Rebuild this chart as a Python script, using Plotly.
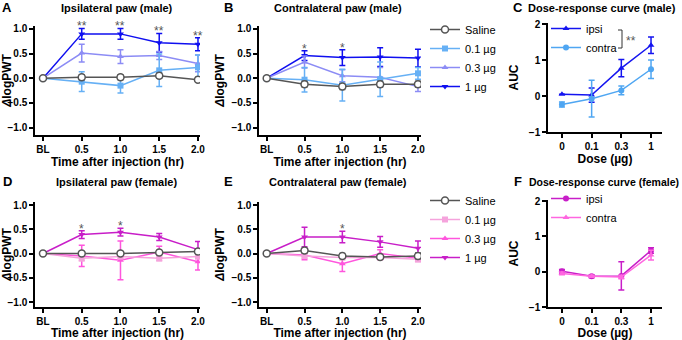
import plotly.graph_objects as go

# ---------------- data ----------------
times = [0, 0.5, 1.0, 1.5, 2.0]
time_ticks = ["BL", "0.5", "1.0", "1.5", "2.0"]
dose_pos = [0, 1, 2, 3]
dose_ticks = ["0", "0.1", "0.3", "1"]
groups = ["Saline", "0.1 µg", "0.3 µg", "1 µg"]

# A: ipsilateral male
A_saline = [0, 0.02, 0.02, 0.05, -0.03]
A_saline_e = [0, 0.05, 0.05, 0.05, 0.05]
A_01 = [0, -0.07, -0.15, 0.16, 0.22]
A_01_e = [0, 0.20, 0.15, 0.33, 0.25]
A_03 = [0, 0.51, 0.44, 0.46, 0.30]
A_03_e = [0, 0.18, 0.14, 0.08, 0.17]
A_1 = [0, 0.90, 0.90, 0.72, 0.69]
A_1_e = [0, 0.11, 0.11, 0.19, 0.13]
A_stars = ["", "**", "**", "**", "**"]

# B: contralateral male
B_saline = [0, -0.12, -0.17, -0.12, -0.12]
B_saline_e = [0, 0.06, 0.06, 0.06, 0.06]
B_01 = [0, -0.03, -0.14, -0.02, 0.10]
B_01_e = [0, 0.25, 0.32, 0.35, 0.12]
B_03 = [0, 0.33, 0.05, 0.02, -0.17]
B_03_e = [0, 0.12, 0.12, 0.20, 0.10]
B_1 = [0, 0.46, 0.42, 0.43, 0.41]
B_1_e = [0, 0.10, 0.16, 0.19, 0.18]
B_stars = ["", "*", "*", "", ""]

# C: dose-response male (AUC)
C_ipsi = [0.05, 0.03, 0.78, 1.42]
C_ipsi_e = [0.0, 0.20, 0.24, 0.23]
C_contra = [-0.23, -0.07, 0.16, 0.75]
C_contra_e = [0.07, 0.51, 0.12, 0.26]

# D: ipsilateral female
D_saline = [0, 0.0, 0.0, 0.02, 0.04]
D_saline_e = [0, 0.04, 0.04, 0.04, 0.05]
D_01 = [0, -0.10, -0.06, -0.10, -0.06]
D_01_e = [0, 0.05, 0.05, 0.05, 0.05]
D_03 = [0, -0.05, -0.14, 0.03, -0.17]
D_03_e = [0, 0.22, 0.40, 0.12, 0.17]
D_1 = [0, 0.39, 0.44, 0.34, 0.08]
D_1_e = [0, 0.08, 0.08, 0.07, 0.17]
D_stars = ["", "*", "*", "", ""]

# E: contralateral female
E_saline = [0, 0.06, -0.05, -0.07, -0.05]
E_saline_e = [0, 0.05, 0.05, 0.05, 0.06]
E_01 = [0, -0.05, -0.08, -0.08, -0.12]
E_01_e = [0, 0.05, 0.05, 0.05, 0.05]
E_03 = [0, -0.03, -0.21, 0.0, -0.10]
E_03_e = [0, 0.10, 0.16, 0.08, 0.06]
E_1 = [0, 0.34, 0.34, 0.24, 0.11]
E_1_e = [0, 0.20, 0.12, 0.11, 0.15]
E_stars = ["", "", "*", "", ""]

# F: dose-response female (AUC)
F_ipsi = [0.01, -0.13, -0.12, 0.60]
F_ipsi_e = [0.05, 0.04, 0.40, 0.08]
F_contra = [-0.05, -0.13, -0.15, 0.47]
F_contra_e = [0.04, 0.03, 0.05, 0.14]

# ---------------- styles ----------------
male_cols = ["#555555", "#66b0f5", "#8c8cf5", "#0f0ff0"]
female_cols = ["#555555", "#f5a3dc", "#ff55dd", "#c81ec8"]
symbols = ["circle-open", "square", "triangle-up", "triangle-down"]
FONT = "Arial, Liberation Sans, sans-serif"

W, H = 682, 340
def px_x(a, b):
    return [a / W, b / W]
def px_y(top, bottom):
    return [1 - bottom / H, 1 - top / H]

fig = go.Figure()

def add_time_panel(idx, series, errs, cols, legend_name, stars):
    xa = "x" if idx == 1 else f"x{idx}"
    ya = "y" if idx == 1 else f"y{idx}"
    order = [3, 2, 1, 0]
    for k in order:
        is_sal = k == 0
        fig.add_trace(go.Scatter(
            x=times, y=series[k], mode="lines+markers", name=groups[k],
            xaxis=xa, yaxis=ya,
            line=dict(color=cols[k], width=1.5),
            marker=dict(symbol="circle" if is_sal else symbols[k], size=7 if is_sal else 6,
                        color="white" if is_sal else cols[k],
                        line=dict(color=cols[k], width=1.5 if is_sal else 0)),
            error_y=dict(type="data", array=errs[k], color=cols[k], thickness=1.5, width=3),
            legend=legend_name if legend_name else "legend",
            showlegend=legend_name is not None,
            legendrank=k + 1,
        ))
    top = [max(series[k][i] + errs[k][i] for k in range(4)) for i in range(len(times))]
    for i, s in enumerate(stars):
        if s:
            fig.add_annotation(x=times[i], y=top[i], xref=xa, yref=ya, text=s,
                               showarrow=False, yanchor="bottom", yshift=-7,
                               font=dict(size=12, color="#555555", family=FONT))

def add_dose_panel(idx, ipsi, ipsi_e, contra, contra_e, cols, syms, legend_name):
    xa = f"x{idx}"
    ya = f"y{idx}"
    data = [("ipsi", ipsi, ipsi_e, cols[0], syms[0]), ("contra", contra, contra_e, cols[1], syms[1])]
    for r, (nm, y, e, c, s) in enumerate(data):
        fig.add_trace(go.Scatter(
            x=dose_pos, y=y, mode="lines+markers", name=nm, xaxis=xa, yaxis=ya,
            line=dict(color=c, width=1.5),
            marker=dict(symbol=s, size=6, color=c),
            error_y=dict(type="data", array=e, color=c, thickness=1.5, width=3),
            legend=legend_name, legendrank=r + 1,
        ))

add_time_panel(1, [A_saline, A_01, A_03, A_1], [A_saline_e, A_01_e, A_03_e, A_1_e], male_cols, None, A_stars)
add_time_panel(2, [B_saline, B_01, B_03, B_1], [B_saline_e, B_01_e, B_03_e, B_1_e], male_cols, "legend", B_stars)
add_dose_panel(3, C_ipsi, C_ipsi_e, C_contra, C_contra_e, ["#1414f0", "#4fa6f2"], ["triangle-up", "circle"], "legend2")
add_time_panel(4, [D_saline, D_01, D_03, D_1], [D_saline_e, D_01_e, D_03_e, D_1_e], female_cols, None, D_stars)
add_time_panel(5, [E_saline, E_01, E_03, E_1], [E_saline_e, E_01_e, E_03_e, E_1_e], female_cols, "legend3", E_stars)
add_dose_panel(6, F_ipsi, F_ipsi_e, F_contra, F_contra_e, ["#c81ec8", "#ff66e0"], ["circle", "triangle-up"], "legend4")

axis_common = dict(showline=True, linecolor="black", linewidth=1.5, ticks="outside",
                   ticklen=4, tickwidth=1.5, tickcolor="black", showgrid=False, zeroline=False,
                   automargin=False,
                   tickfont=dict(family=FONT, size=10, color="black", weight="bold"),
                   title_font=dict(family=FONT, size=12, color="black", weight="bold"),
                   mirror=False)

lay = {}
domX_left = px_x(35, 200)
domX_mid = px_x(259, 421)
domX_right = px_x(548, 662)
domY_top_t = px_y(26, 135)
domY_top_d = px_y(23, 132)
domY_bot_t = px_y(202, 307)
domY_bot_d = px_y(200, 307)

time_x = dict(tickvals=times, ticktext=time_ticks, title_text="Time after injection (hr)", title_standoff=2)
dose_x = dict(tickvals=dose_pos, ticktext=dose_ticks, title_text="Dose (µg)", title_standoff=2)
time_y = dict(tickvals=[-1, -0.5, 0, 0.5, 1], tickformat=".1f", title_text="<i>Δ</i>logPWT", title_standoff=4)
dose_y = dict(tickvals=[-1, 0, 1, 2], title_text="AUC", title_standoff=8)

lay["xaxis"] = dict(axis_common, domain=domX_left, range=[-0.103, 2.026], anchor="y", **time_x)
lay["yaxis"] = dict(axis_common, domain=domY_top_t, range=[-1.152, 1.06], anchor="x", **time_y)
lay["xaxis2"] = dict(axis_common, domain=domX_mid, range=[-0.102, 2.04], anchor="y2", **time_x)
lay["yaxis2"] = dict(axis_common, domain=domY_top_t, range=[-1.152, 1.06], anchor="x2", **time_y)
lay["xaxis3"] = dict(axis_common, domain=domX_right, range=[-0.47, 3.37], anchor="y3", **dose_x)
lay["yaxis3"] = dict(axis_common, domain=domY_top_d, range=[-1.0, 2.04], anchor="x3", **dose_y)
lay["xaxis4"] = dict(axis_common, domain=domX_left, range=[-0.103, 2.026], anchor="y4", **time_x)
lay["yaxis4"] = dict(axis_common, domain=domY_bot_t, range=[-1.103, 1.062], anchor="x4", **time_y)
lay["xaxis5"] = dict(axis_common, domain=domX_mid, range=[-0.102, 2.04], anchor="y5", **time_x)
lay["yaxis5"] = dict(axis_common, domain=domY_bot_t, range=[-1.103, 1.062], anchor="x5", **time_y)
lay["xaxis6"] = dict(axis_common, domain=domX_right, range=[-0.47, 3.37], anchor="y6", **dose_x)
lay["yaxis6"] = dict(axis_common, domain=domY_bot_d, range=[-1.0, 2.03], anchor="x6", **dose_y)

leg_common = dict(bgcolor="rgba(0,0,0,0)", borderwidth=0, font=dict(family=FONT, size=11, color="black"),
                  xanchor="left", yanchor="top", itemwidth=30, tracegroupgap=0, traceorder="normal")
lay["legend"] = dict(leg_common, x=425 / W, y=1 - 15 / H)
lay["legend2"] = dict(leg_common, x=546 / W, y=1 - 14 / H)
lay["legend3"] = dict(leg_common, x=425 / W, y=1 - 186 / H)
lay["legend4"] = dict(leg_common, x=546 / W, y=1 - 184 / H)

fig.update_layout(width=W, height=H, margin=dict(l=0, r=0, t=0, b=0, autoexpand=False),
                  paper_bgcolor="white", plot_bgcolor="white",
                  font=dict(family=FONT, color="black"), **lay)

# (text, x, y, anchor, size)
titles = [("Ipsilateral paw (male)", 117, 8, "center", 11), ("Contralateral paw (male)", 338, 8, "center", 11),
          ("Dose-response curve (male)", 678, 8, "right", 11), ("Ipsilateral paw (female)", 117, 182, "center", 11),
          ("Contralateral paw (female)", 338, 182, "center", 11),
          ("Dose-response curve (female)", 681, 182, "right", 10.5)]
for t, x, y, anc, sz in titles:
    fig.add_annotation(x=x / W, y=1 - y / H, xref="paper", yref="paper", text=t, showarrow=False,
                       xanchor=anc, yanchor="middle",
                       font=dict(family=FONT, size=sz, color="black", weight="bold"))
letters = [("A", 7, 7), ("B", 228, 7), ("C", 518, 7), ("D", 7, 181), ("E", 228, 181), ("F", 518, 181)]
for t, x, y in letters:
    fig.add_annotation(x=x / W, y=1 - y / H, xref="paper", yref="paper", text=t, showarrow=False,
                       xanchor="center", yanchor="middle",
                       font=dict(family=FONT, size=13, color="black", weight="bold"))

# significance bracket next to the C legend
bx, by0, by1 = 622, 30, 48
fig.add_shape(type="line", xref="paper", yref="paper", x0=bx / W, x1=bx / W, y0=1 - by0 / H, y1=1 - by1 / H,
              line=dict(color="#333333", width=1))
fig.add_shape(type="line", xref="paper", yref="paper", x0=(bx - 4) / W, x1=bx / W, y0=1 - by0 / H, y1=1 - by0 / H,
              line=dict(color="#333333", width=1))
fig.add_shape(type="line", xref="paper", yref="paper", x0=(bx - 4) / W, x1=bx / W, y0=1 - by1 / H, y1=1 - by1 / H,
              line=dict(color="#333333", width=1))
fig.add_annotation(x=(bx + 2) / W, y=1 - 41 / H, xref="paper", yref="paper", text="**", showarrow=False,
                   xanchor="left", yanchor="middle", font=dict(family=FONT, size=12, color="#555555"))

fig.write_html("out.html", config={"displayModeBar": False},
               post_script="document.body.style.margin='0';document.body.style.overflow='hidden';")
